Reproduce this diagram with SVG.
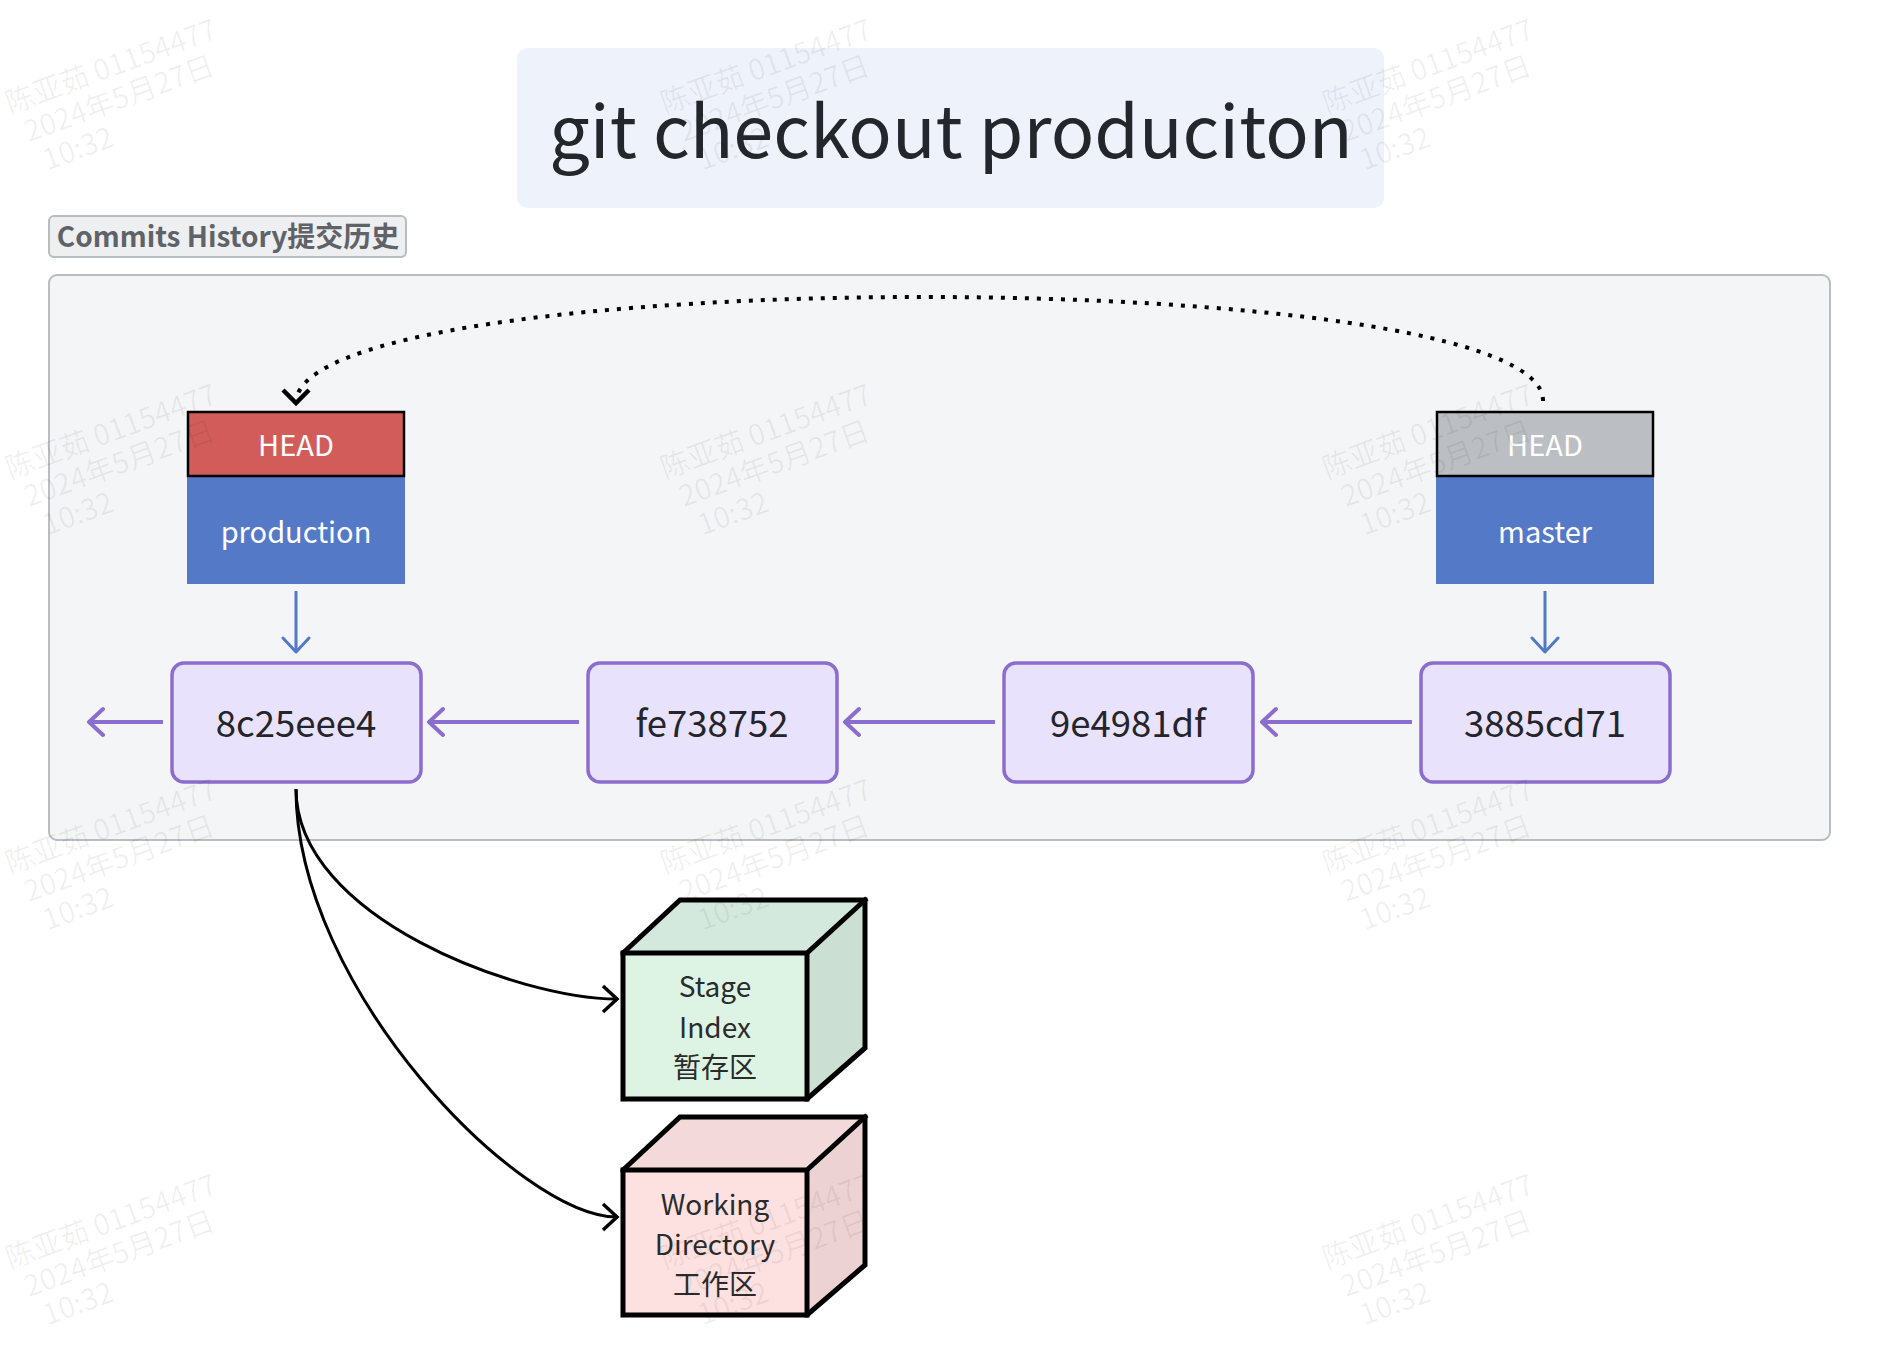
<svg xmlns="http://www.w3.org/2000/svg" width="1878" height="1366" viewBox="0 0 1878 1366">
<defs>
<style>
text{font-family:"Noto Sans CJK SC","Noto Sans",sans-serif}
.title{font-size:72px;fill:#23262b;text-anchor:middle}
.label{font-size:28px;font-weight:bold;fill:#5f6369;text-anchor:middle}
.wt{font-size:29px;fill:#ffffff;text-anchor:middle}
.ct{font-size:36.5px;fill:#23252a;text-anchor:middle}
.edge{fill:none;stroke:#000;stroke-width:5;stroke-linejoin:miter;stroke-linecap:square}
.cubet{font-size:28px;fill:#2b2b2b;text-anchor:middle}
.commit{fill:#e9e2fc;stroke:#8a6dce;stroke-width:3.5}
.parr{fill:none;stroke:#8a6dce;stroke-width:4}
.barr{fill:none;stroke:#5179c9;stroke-width:3}
.karr{fill:none;stroke:#000;stroke-width:3}
.wm{font-size:29px;fill:#000;fill-opacity:0.06}
</style>
<marker id="mp" viewBox="-16 -16 20 32" refX="0" refY="0" markerWidth="20" markerHeight="32" markerUnits="userSpaceOnUse" orient="auto">
<path d="M-14,-13 L0,0 L-14,13" fill="none" stroke="#8a6dce" stroke-width="4" stroke-linecap="round" stroke-linejoin="round"/>
</marker>
<marker id="mb" viewBox="-16 -16 20 32" refX="0" refY="0" markerWidth="20" markerHeight="32" markerUnits="userSpaceOnUse" orient="auto">
<path d="M-14,-13 L0,0 L-14,13" fill="none" stroke="#5179c9" stroke-width="3" stroke-linecap="round" stroke-linejoin="round"/>
</marker>
<marker id="mk" viewBox="-16 -16 20 32" refX="0" refY="0" markerWidth="20" markerHeight="32" markerUnits="userSpaceOnUse" orient="auto">
<path d="M-14,-13 L0,0 L-14,13" fill="none" stroke="#000" stroke-width="3.5" stroke-linecap="butt" stroke-linejoin="miter"/>
</marker>
<marker id="md" viewBox="-18 -18 22 36" refX="0" refY="0" markerWidth="22" markerHeight="36" markerUnits="userSpaceOnUse" orient="auto">
<path d="M-13,-13 L0,0 L-13,13" fill="none" stroke="#000" stroke-width="4.5" stroke-linecap="butt" stroke-linejoin="miter"/>
</marker>
</defs>
<rect width="1878" height="1366" fill="#ffffff"/>

<g id="title">
<rect x="517" y="48" width="867" height="160" rx="10" fill="#eef2fb"/>
<text class="title" x="951" y="158">git checkout produciton</text>
</g>

<g id="history-label">
<rect x="49" y="216" width="357" height="41" rx="5" fill="#eeeff1" stroke="#b8bbbf" stroke-width="2"/>
<text class="label" x="228" y="247">Commits History提交历史</text>
</g>

<g id="history-container">
<rect x="49" y="275" width="1781" height="565" rx="8" fill="#f4f5f7" stroke="#b9bcc0" stroke-width="2"/>
</g>

<g id="connectors">
<path d="M1543,401 C1545,262 296,262 296,403" fill="none" stroke="#000" stroke-width="4" stroke-dasharray="4 8" marker-end="url(#md)"/>
<path class="barr" d="M296,591 L296,652" marker-end="url(#mb)"/>
<path class="barr" d="M1545,591 L1545,652" marker-end="url(#mb)"/>
<path class="parr" d="M163,722 L89,722" marker-end="url(#mp)"/>
<path class="parr" d="M579,722 L429,722" marker-end="url(#mp)"/>
<path class="parr" d="M995,722 L845,722" marker-end="url(#mp)"/>
<path class="parr" d="M1412,722 L1262,722" marker-end="url(#mp)"/>
<path class="karr" d="M296,789 C296,918 520,999 617,999" marker-end="url(#mk)"/>
<path class="karr" d="M296,789 C296,989 520,1217 617,1217" marker-end="url(#mk)"/>
</g>

<g id="production">
<rect x="187" y="476" width="218" height="108" fill="#5479c6"/>
<rect x="188" y="412" width="216" height="64" fill="#d25c5a" stroke="#000" stroke-width="2.5"/>
<text class="wt" x="296" y="456">HEAD</text>
<text class="wt" x="296" y="543">production</text>
</g>

<g id="master">
<rect x="1436" y="476" width="218" height="108" fill="#5479c6"/>
<rect x="1437" y="412" width="216" height="64" fill="#bbbec2" stroke="#000" stroke-width="2.5"/>
<text class="wt" x="1545" y="456">HEAD</text>
<text class="wt" x="1545" y="543">master</text>
</g>

<g id="c-8c25eee4">
<rect class="commit" x="172" y="663" width="249" height="119" rx="12"/>
<text class="ct" x="296" y="737">8c25eee4</text>
</g>
<g id="c-fe738752">
<rect class="commit" x="588" y="663" width="249" height="119" rx="12"/>
<text class="ct" x="712" y="737">fe738752</text>
</g>
<g id="c-9e4981df">
<rect class="commit" x="1004" y="663" width="249" height="119" rx="12"/>
<text class="ct" x="1128" y="737">9e4981df</text>
</g>
<g id="c-3885cd71">
<rect class="commit" x="1421" y="663" width="249" height="119" rx="12"/>
<text class="ct" x="1545" y="737">3885cd71</text>
</g>

<g id="stage-index">
<polygon points="623,953 680,900 865,900 807,953" fill="#d4e9dd"/>
<polygon points="807,953 865,900 865,1048 807,1099" fill="#cbe0d3"/>
<rect x="623" y="953" width="184" height="146" fill="#ddf4e5"/>
<polygon class="edge" points="623,953 680,900 865,900 865,1048 807,1099 623,1099"/>
<path class="edge" d="M623,953 L807,953 L865,900 M807,953 L807,1099"/>
<text class="cubet" x="715" y="997">Stage</text>
<text class="cubet" x="715" y="1038">Index</text>
<text class="cubet" x="715" y="1078">暂存区</text>
</g>

<g id="working-directory">
<polygon points="623,1170 680,1117 865,1117 807,1170" fill="#f3d9d9"/>
<polygon points="807,1170 865,1117 865,1265 807,1315" fill="#ecd2d3"/>
<rect x="623" y="1170" width="184" height="145" fill="#fde1e1"/>
<polygon class="edge" points="623,1170 680,1117 865,1117 865,1265 807,1315 623,1315"/>
<path class="edge" d="M623,1170 L807,1170 L865,1117 M807,1170 L807,1315"/>
<text class="cubet" x="715" y="1215">Working</text>
<text class="cubet" x="715" y="1255">Directory</text>
<text class="cubet" x="715" y="1295">工作区</text>
</g>

<g id="watermarks">
<g transform="translate(10,114) rotate(-20)"><text class="wm"><tspan x="0" y="0">陈亚茹 01154477</tspan><tspan x="8" y="33">2024年5月27日</tspan><tspan x="16" y="66">10:32</tspan></text></g>
<g transform="translate(665,114) rotate(-20)"><text class="wm"><tspan x="0" y="0">陈亚茹 01154477</tspan><tspan x="8" y="33">2024年5月27日</tspan><tspan x="16" y="66">10:32</tspan></text></g>
<g transform="translate(1327,114) rotate(-20)"><text class="wm"><tspan x="0" y="0">陈亚茹 01154477</tspan><tspan x="8" y="33">2024年5月27日</tspan><tspan x="16" y="66">10:32</tspan></text></g>
<g transform="translate(10,479) rotate(-20)"><text class="wm"><tspan x="0" y="0">陈亚茹 01154477</tspan><tspan x="8" y="33">2024年5月27日</tspan><tspan x="16" y="66">10:32</tspan></text></g>
<g transform="translate(665,479) rotate(-20)"><text class="wm"><tspan x="0" y="0">陈亚茹 01154477</tspan><tspan x="8" y="33">2024年5月27日</tspan><tspan x="16" y="66">10:32</tspan></text></g>
<g transform="translate(1327,479) rotate(-20)"><text class="wm"><tspan x="0" y="0">陈亚茹 01154477</tspan><tspan x="8" y="33">2024年5月27日</tspan><tspan x="16" y="66">10:32</tspan></text></g>
<g transform="translate(10,874) rotate(-20)"><text class="wm"><tspan x="0" y="0">陈亚茹 01154477</tspan><tspan x="8" y="33">2024年5月27日</tspan><tspan x="16" y="66">10:32</tspan></text></g>
<g transform="translate(665,874) rotate(-20)"><text class="wm"><tspan x="0" y="0">陈亚茹 01154477</tspan><tspan x="8" y="33">2024年5月27日</tspan><tspan x="16" y="66">10:32</tspan></text></g>
<g transform="translate(1327,874) rotate(-20)"><text class="wm"><tspan x="0" y="0">陈亚茹 01154477</tspan><tspan x="8" y="33">2024年5月27日</tspan><tspan x="16" y="66">10:32</tspan></text></g>
<g transform="translate(10,1269) rotate(-20)"><text class="wm"><tspan x="0" y="0">陈亚茹 01154477</tspan><tspan x="8" y="33">2024年5月27日</tspan><tspan x="16" y="66">10:32</tspan></text></g>
<g transform="translate(665,1269) rotate(-20)"><text class="wm"><tspan x="0" y="0">陈亚茹 01154477</tspan><tspan x="8" y="33">2024年5月27日</tspan><tspan x="16" y="66">10:32</tspan></text></g>
<g transform="translate(1327,1269) rotate(-20)"><text class="wm"><tspan x="0" y="0">陈亚茹 01154477</tspan><tspan x="8" y="33">2024年5月27日</tspan><tspan x="16" y="66">10:32</tspan></text></g>
</g>
</svg>
